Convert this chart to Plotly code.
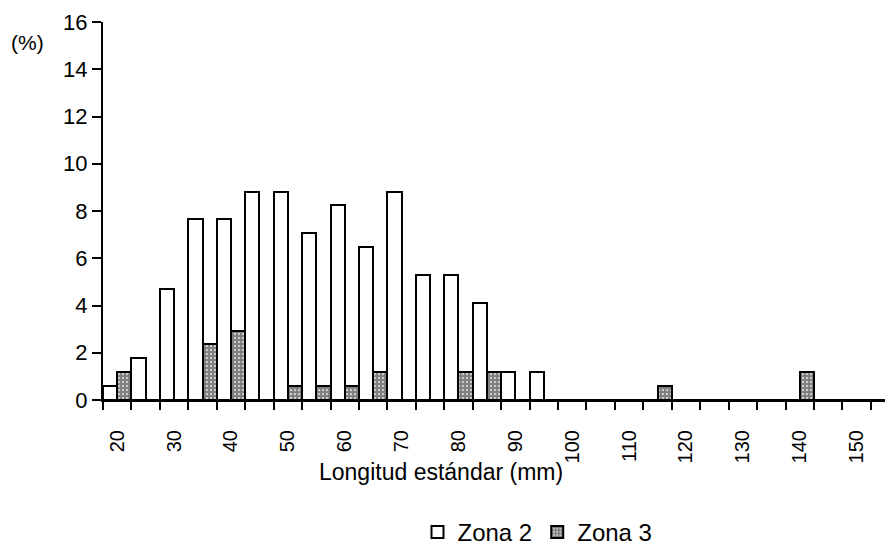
import plotly.graph_objects as go

# Longitud estándar (mm) classes
categories = [20, 25, 30, 35, 40, 45, 50, 55, 60, 65, 70, 75, 80, 85, 90, 95,
              100, 105, 110, 115, 120, 125, 130, 135, 140, 145, 150, 155]
zona2 = [0.59, 1.76, 4.71, 7.65, 7.65, 8.82, 8.82, 7.06, 8.24, 6.47, 8.82, 5.29,
         5.29, 4.12, 1.18, 1.18, 0, 0, 0, 0, 0, 0, 0, 0, 0, 0, 0, 0]
zona3 = [1.18, 0, 0, 2.35, 2.94, 0, 0.59, 0.59, 0.59, 1.18, 0, 0,
         1.18, 1.18, 0, 0, 0, 0, 0, 0.59, 0, 0, 0, 0, 1.18, 0, 0, 0]
tick_vals = [20, 30, 40, 50, 60, 70, 80, 90, 100, 110, 120, 130, 140, 150]
tick_text = [str(v) for v in tick_vals]
y_ticks = [0, 2, 4, 6, 8, 10, 12, 14, 16]
x_title = "Longitud estándar (mm)"
y_title = "(%)"

FONT = "Liberation Sans, Arial, Helvetica, sans-serif"

fig = go.Figure()
fig.add_trace(go.Bar(
    x=categories, y=zona2, name="Zona 2",
    marker=dict(color="white", line=dict(color="black", width=2)),
))
fig.add_trace(go.Bar(
    x=categories, y=zona3, name="Zona 3",
    marker=dict(color="white", line=dict(color="black", width=2),
                pattern=dict(shape=".", fgcolor="black", bgcolor="white",
                             size=4, solidity=0.8)),
))

fig.update_layout(
    width=885, height=541,
    margin=dict(l=95, r=0, t=14, b=149, autoexpand=False),
    paper_bgcolor="white", plot_bgcolor="white",
    barmode="group", bargap=0, bargroupgap=0,
    font=dict(family=FONT, color="black", size=20),
    showlegend=True,
    legend=dict(orientation="h", x=0.55, y=-0.35, xanchor="center", yanchor="middle",
                font=dict(size=24, family=FONT), traceorder="normal"),
    xaxis=dict(
        range=[17.5, 156.4],
        tickmode="array", tickvals=tick_vals, ticktext=tick_text,
        tickangle=-90, ticks="", tickfont=dict(size=20, family=FONT),
        ticklabelstandoff=20,
        showline=True, linecolor="black", linewidth=2,
        showgrid=False, zeroline=False,
        minor=dict(tick0=17.5, dtick=5, ticks="outside", ticklen=8,
                   tickwidth=2, tickcolor="black", showgrid=False),
    ),
    yaxis=dict(
        range=[0, 16], tickmode="array", tickvals=y_ticks,
        ticks="outside", ticklen=9, tickwidth=2, tickcolor="black",
        tickfont=dict(size=22, family=FONT),
        showline=True, linecolor="black", linewidth=2,
        showgrid=False, zeroline=False,
    ),
    annotations=[
        dict(text=y_title, xref="paper", yref="paper", x=-0.095, y=0.945,
             xanchor="center", yanchor="middle", showarrow=False,
             font=dict(size=21, family=FONT)),
        dict(text=x_title, xref="paper", yref="paper", x=0.428, y=-0.19,
             xanchor="center", yanchor="middle", showarrow=False,
             font=dict(size=23, family=FONT)),
    ],
)

fig.write_html("out.html")
